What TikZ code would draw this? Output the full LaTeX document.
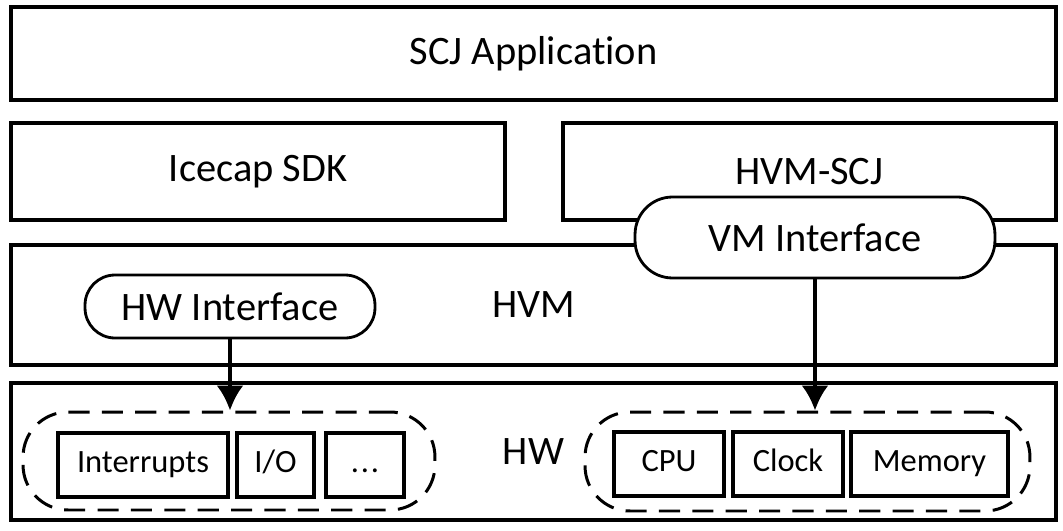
\documentclass[tikz,border=0pt]{standalone}
\usepackage{fontspec}
\setmainfont[Ligatures = NoCommon]{Carlito}
\usetikzlibrary{arrows.meta}

\begin{document}
\begin{tikzpicture}[x = 0.02cm, y = -0.02cm, > = {Latex[length = 0.5cm, width = 0.54cm]},
	layer/.style = {draw, line width = 2.5pt, fill = white, inner sep = 0pt, font = \fontsize{23}{28}\selectfont},
	iface/.style = {layer, line width = 1.6pt},
	group/.style = {draw, dashed, dash pattern = on 12pt off 7pt, line width = 1.7pt, rounded corners = 0.9cm, inner sep = 0pt},
	unit/.style = {draw, line width = 2.5pt, inner sep = 0pt, minimum height = 1.28cm, text height = 2.1ex, text depth = 0.2ex, font = \fontsize{18.5}{22}\selectfont}]

	\useasboundingbox (0, 0) rectangle (1063, 531);

	% Software layers
	
	\node [layer, minimum width = 20.9cm, minimum height = 1.86cm] (app) at (533.5, 53.5) {SCJ Application};
	\node [layer, minimum width = 9.88cm, minimum height = 1.94cm] (sdk) at (258, 171.5) {Icecap SDK};
	\node [layer, minimum width = 9.86cm, minimum height = 1.94cm] (scj) at (809.5, 171.5) {HVM-SCJ};
	\node [layer, minimum width = 20.9cm, minimum height = 2.4cm] (hvm) at (533.5, 305) {HVM};
	\node [layer, minimum width = 20.9cm, minimum height = 2.74cm] (hw) at (533.5, 451.5) {HW};
	
	% Interfaces
	
	\node [iface, minimum width = 7.2cm, minimum height = 1.62cm, rounded corners = 0.75cm] (vmif) at (815, 237.5) {VM Interface};
	\node [iface, minimum width = 5.8cm, minimum height = 1.26cm, rounded corners = 0.6cm] (hwif) at (230, 306.5) {HW Interface};
	
	% Devices
	
	\node [group, minimum width = 8.24cm, minimum height = 1.96cm] (periph) at (229, 461) {};
	\node [group, minimum width = 8.9cm, minimum height = 1.98cm] (core) at (807.5, 461.5) {};
	
	\node [unit, minimum width = 3.4cm] (irq) at (143, 465) {Interrupts};
	\node [unit, minimum width = 1.54cm] (io) at (275.5, 465) {I/O};
	\node [unit, minimum width = 1.56cm] (more) at (365, 465) {.\kern1pt.\kern1pt.};
	\node [unit, minimum width = 2.2cm] (cpu) at (669, 464) {CPU};
	\node [unit, minimum width = 2.2cm] (clock) at (788, 464) {Clock};
	\node [unit, minimum width = 3.14cm] (mem) at (929.5, 464) {Memory};
	
	% Calls down to the hardware
	
	\draw [->, line width = 2.2pt] (hwif.south) -- (hwif.south |- periph.north);
	\draw [->, line width = 2.2pt] (vmif.south) -- (vmif.south |- core.north);
	
\end{tikzpicture}
\end{document}
